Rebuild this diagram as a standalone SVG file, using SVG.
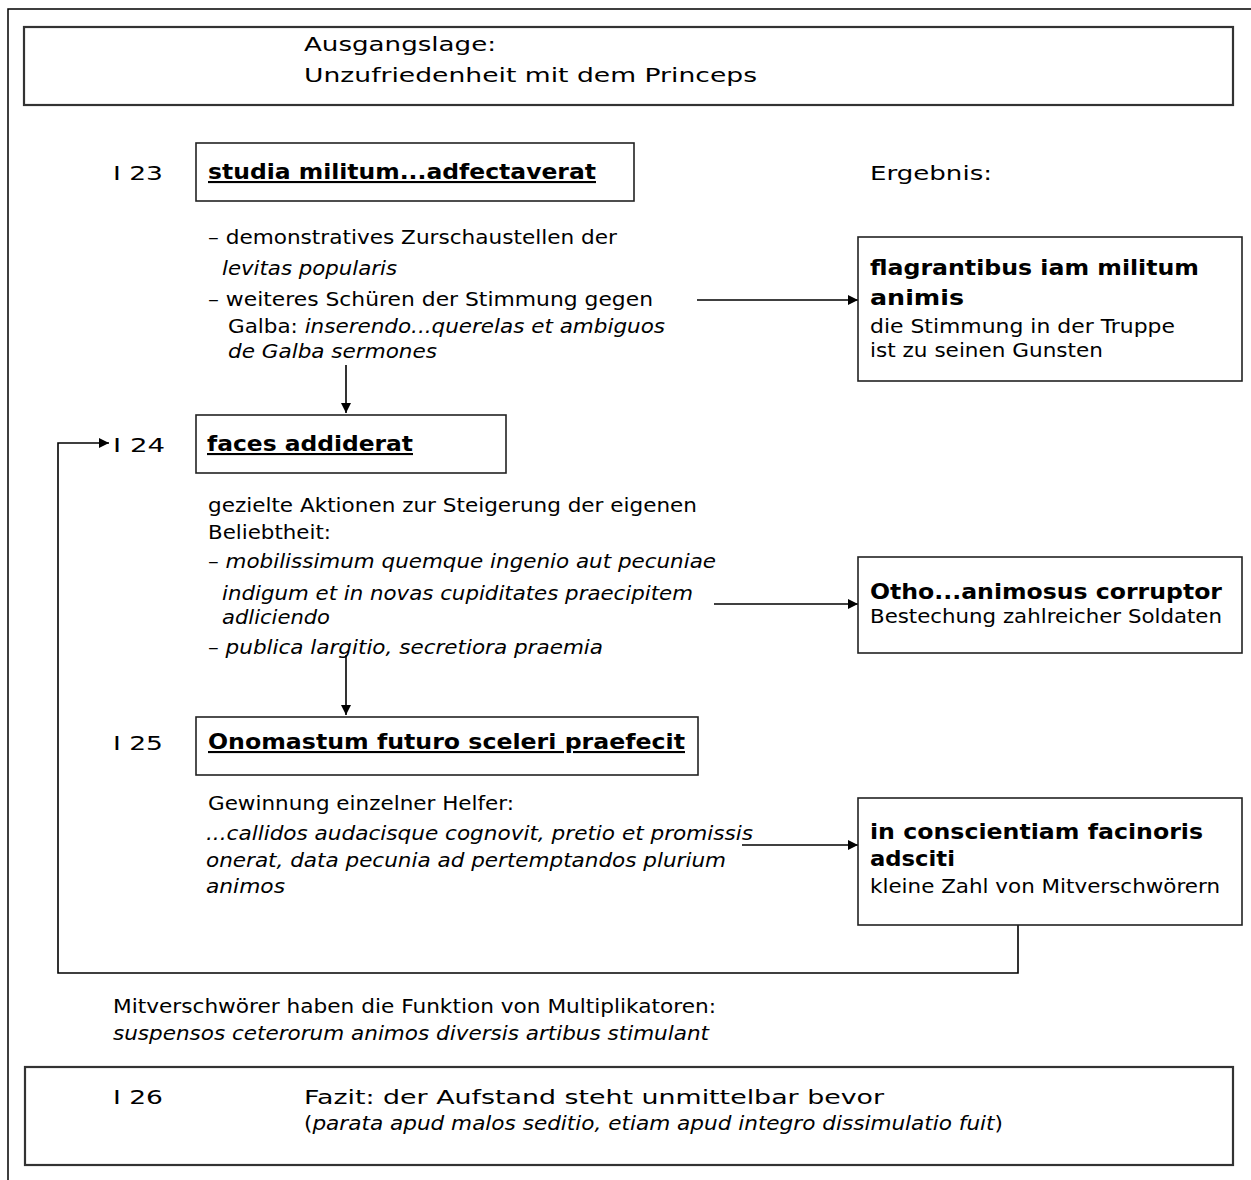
<svg xmlns="http://www.w3.org/2000/svg" width="1251" height="1180" viewBox="0 0 1251 1180">
<style>
text{font-family:"DejaVu Sans","Verdana",sans-serif;fill:#000;}
.t{font-size:19px;}
.h{font-size:21px;font-weight:bold;}
.u{text-decoration:underline;}
.i{font-style:italic;}
.box{fill:#fff;stroke:#222;stroke-width:1.6;}
.bigbox{fill:#fff;stroke:#333;stroke-width:2.2;}
.con{fill:none;stroke:#000;stroke-width:1.6;}
</style>
<defs>
<marker id="ah" viewBox="0 0 10 10" refX="10" refY="5" markerWidth="10" markerHeight="10" markerUnits="userSpaceOnUse" orient="auto">
<path d="M0,0 L10,5 L0,10 Z" fill="#000"/>
</marker>
</defs>
<rect width="1251" height="1180" fill="#fff"/>
<g id="frame">
<path d="M8,1180 L8,9 L1251,9" fill="none" stroke="#000" stroke-width="1.5"/>
</g>
<g id="connectors">
<line class="con" x1="697" y1="300" x2="858" y2="300" marker-end="url(#ah)"/>
<line class="con" x1="346" y1="365" x2="346" y2="413" marker-end="url(#ah)"/>
<line class="con" x1="714" y1="604" x2="858" y2="604" marker-end="url(#ah)"/>
<line class="con" x1="346" y1="655" x2="346" y2="715" marker-end="url(#ah)"/>
<line class="con" x1="742" y1="845" x2="858" y2="845" marker-end="url(#ah)"/>
<polyline class="con" points="1018,925 1018,973 58,973 58,443 109,443" marker-end="url(#ah)"/>
</g>
<g id="ausgangslage">
<rect class="bigbox" x="24" y="27" width="1209" height="78"/>
<text class="t" x="304" y="51" font-size="20" textLength="192" lengthAdjust="spacingAndGlyphs">Ausgangslage:</text>
<text class="t" x="304" y="82" font-size="20" textLength="453" lengthAdjust="spacingAndGlyphs">Unzufriedenheit mit dem Princeps</text>
</g>
<g id="i23">
<text class="t" x="113" y="180" font-size="20" textLength="50" lengthAdjust="spacingAndGlyphs">I 23</text>
<rect class="box" x="196" y="143" width="438" height="58"/>
<text class="h u" x="208" y="179" textLength="388" lengthAdjust="spacingAndGlyphs">studia militum...adfectaverat</text>
</g>
<g id="ergebnis">
<text class="t" x="870" y="180" font-size="20" textLength="122" lengthAdjust="spacingAndGlyphs">Ergebnis:</text>
</g>
<g id="text23">
<text class="t" x="208" y="244" textLength="409" lengthAdjust="spacingAndGlyphs">– demonstratives Zurschaustellen der</text>
<text class="t i" x="222" y="275" textLength="175" lengthAdjust="spacingAndGlyphs">levitas popularis</text>
<text class="t" x="208" y="306" textLength="445" lengthAdjust="spacingAndGlyphs">– weiteres Schüren der Stimmung gegen</text>
<text class="t" x="228" y="333" textLength="437" lengthAdjust="spacingAndGlyphs">Galba: <tspan class="i">inserendo...querelas et ambiguos</tspan></text>
<text class="t i" x="228" y="358" textLength="209" lengthAdjust="spacingAndGlyphs">de Galba sermones</text>
</g>
<g id="flagrantibus">
<rect class="box" x="858" y="237" width="384" height="144"/>
<text class="h" x="870" y="275" textLength="329" lengthAdjust="spacingAndGlyphs">flagrantibus iam militum</text>
<text class="h" x="870" y="305" textLength="94" lengthAdjust="spacingAndGlyphs">animis</text>
<text class="t" x="870" y="333" textLength="305" lengthAdjust="spacingAndGlyphs">die Stimmung in der Truppe</text>
<text class="t" x="870" y="357" textLength="233" lengthAdjust="spacingAndGlyphs">ist zu seinen Gunsten</text>
</g>
<g id="i24">
<text class="t" x="113" y="452" font-size="20" textLength="52" lengthAdjust="spacingAndGlyphs">I 24</text>
<rect class="box" x="196" y="415" width="310" height="58"/>
<text class="h u" x="207" y="451" textLength="206" lengthAdjust="spacingAndGlyphs">faces addiderat</text>
</g>
<g id="text24">
<text class="t" x="208" y="512" textLength="489" lengthAdjust="spacingAndGlyphs">gezielte Aktionen zur Steigerung der eigenen</text>
<text class="t" x="208" y="539" textLength="123" lengthAdjust="spacingAndGlyphs">Beliebtheit:</text>
<text class="t" x="208" y="568" textLength="508" lengthAdjust="spacingAndGlyphs">– <tspan class="i">mobilissimum quemque ingenio aut pecuniae</tspan></text>
<text class="t i" x="222" y="600" textLength="471" lengthAdjust="spacingAndGlyphs">indigum et in novas cupiditates praecipitem</text>
<text class="t i" x="222" y="624" textLength="108" lengthAdjust="spacingAndGlyphs">adliciendo</text>
<text class="t" x="208" y="654" textLength="395" lengthAdjust="spacingAndGlyphs">– <tspan class="i">publica largitio, secretiora praemia</tspan></text>
</g>
<g id="otho">
<rect class="box" x="858" y="557" width="384" height="96"/>
<text class="h" x="870" y="599" textLength="352" lengthAdjust="spacingAndGlyphs">Otho...animosus corruptor</text>
<text class="t" x="870" y="623" textLength="352" lengthAdjust="spacingAndGlyphs">Bestechung zahlreicher Soldaten</text>
</g>
<g id="i25">
<text class="t" x="113" y="750" font-size="20" textLength="50" lengthAdjust="spacingAndGlyphs">I 25</text>
<rect class="box" x="196" y="717" width="502" height="58"/>
<text class="h u" x="208" y="749" textLength="477" lengthAdjust="spacingAndGlyphs">Onomastum futuro sceleri praefecit</text>
</g>
<g id="text25">
<text class="t" x="208" y="810" textLength="306" lengthAdjust="spacingAndGlyphs">Gewinnung einzelner Helfer:</text>
<text class="t i" x="206" y="840" textLength="547" lengthAdjust="spacingAndGlyphs">...callidos audacisque cognovit, pretio et promissis</text>
<text class="t i" x="206" y="867" textLength="520" lengthAdjust="spacingAndGlyphs">onerat, data pecunia ad pertemptandos plurium</text>
<text class="t i" x="206" y="893" textLength="79" lengthAdjust="spacingAndGlyphs">animos</text>
</g>
<g id="conscientiam">
<rect class="box" x="858" y="798" width="384" height="127"/>
<text class="h" x="870" y="839" textLength="333" lengthAdjust="spacingAndGlyphs">in conscientiam facinoris</text>
<text class="h" x="870" y="866" textLength="85" lengthAdjust="spacingAndGlyphs">adsciti</text>
<text class="t" x="870" y="893" textLength="350" lengthAdjust="spacingAndGlyphs">kleine Zahl von Mitverschwörern</text>
</g>
<g id="multiplikatoren">
<text class="t" x="113" y="1013" textLength="603" lengthAdjust="spacingAndGlyphs">Mitverschwörer haben die Funktion von Multiplikatoren:</text>
<text class="t i" x="113" y="1040" textLength="596" lengthAdjust="spacingAndGlyphs">suspensos ceterorum animos diversis artibus stimulant</text>
</g>
<g id="fazit">
<rect class="bigbox" x="25" y="1067" width="1208" height="98"/>
<text class="t" x="113" y="1104" font-size="20" textLength="50" lengthAdjust="spacingAndGlyphs">I 26</text>
<text class="t" x="304" y="1104" font-size="20" textLength="580" lengthAdjust="spacingAndGlyphs">Fazit: der Aufstand steht unmittelbar bevor</text>
<text class="t" x="304" y="1130" textLength="699" lengthAdjust="spacingAndGlyphs">(<tspan class="i">parata apud malos seditio, etiam apud integro dissimulatio fuit</tspan>)</text>
</g>
</svg>
